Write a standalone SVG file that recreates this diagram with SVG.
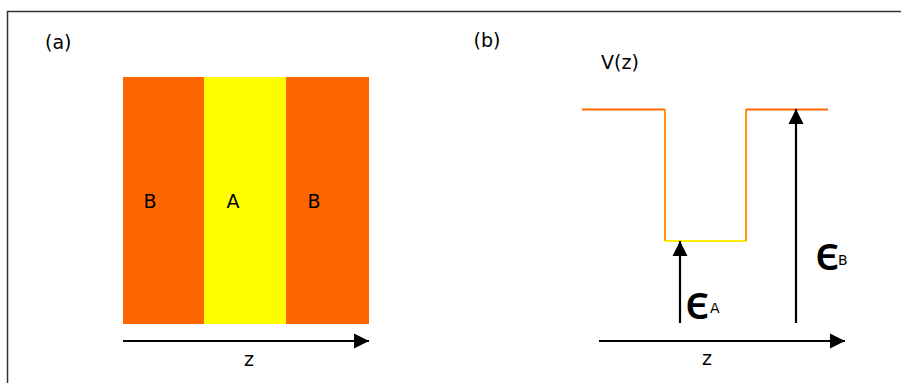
<svg xmlns="http://www.w3.org/2000/svg" width="901" height="383" viewBox="0 0 901 383">
<style>
text{font-family:"DejaVu Sans","Open Sans",sans-serif;fill:#000}
.lbl{font-size:19px}
.eps{font-family:"Noto Sans","DejaVu Sans",sans-serif;font-size:48px;font-weight:500}
.sub{font-family:"DejaVu Sans",sans-serif;font-size:14px}
.ax{stroke:#000;stroke-width:2.2;fill:none}
</style>
<defs>
<marker id="ah" viewBox="0 0 10 10" refX="10" refY="5" markerWidth="7" markerHeight="7" orient="auto" markerUnits="strokeWidth">
<path d="M0,0 L10,5 L0,10 z" fill="#000"/>
</marker>
</defs>
<rect width="901" height="383" fill="#fff"/>
<path d="M7.5,383 V11.5 H901" fill="none" stroke="#333" stroke-width="1.5"/>
<g id="panel-a">
<text class="lbl" x="45" y="49">(a)</text>
<g id="layer-B1"><rect x="123" y="77" width="81" height="247" fill="#ff6600"/><text class="lbl" x="150" y="208" text-anchor="middle">B</text></g>
<g id="layer-A"><rect x="204" y="77" width="82" height="247" fill="#ffff00"/><text class="lbl" x="233" y="208" text-anchor="middle">A</text></g>
<g id="layer-B2"><rect x="286" y="77" width="83" height="247" fill="#ff6600"/><text class="lbl" x="314" y="208" text-anchor="middle">B</text></g>
<text class="lbl" x="249" y="366" text-anchor="middle">z</text>
</g>
<g id="panel-b">
<text class="lbl" x="487" y="47" text-anchor="middle">(b)</text>
<text class="lbl" x="620" y="69" text-anchor="middle">V(z)</text>
<g id="potential">
<line x1="582" y1="109.5" x2="665" y2="109.5" stroke="#ff6600" stroke-width="2"/>
<line x1="665" y1="109.5" x2="665" y2="241" stroke="#ff9900" stroke-width="2"/>
<line x1="665" y1="241" x2="746" y2="241" stroke="#ffee00" stroke-width="2"/>
<line x1="746" y1="241" x2="746" y2="109.5" stroke="#ff9900" stroke-width="2"/>
<line x1="746" y1="109.5" x2="828" y2="109.5" stroke="#ff6600" stroke-width="2"/>
</g>
<text class="eps" x="685" y="319">ϵ</text><text class="sub" x="710" y="313">A</text>
<text class="eps" x="815" y="270" font-size="42">ϵ</text><text class="sub" x="838" y="265">B</text>
<text class="lbl" x="707" y="365" text-anchor="middle">z</text>
</g>
<g id="connectors">
<line class="ax" x1="123" y1="341" x2="369" y2="341" marker-end="url(#ah)"/>
<line class="ax" x1="599" y1="341" x2="845" y2="341" marker-end="url(#ah)"/>
<line class="ax" x1="680" y1="323" x2="680" y2="241" marker-end="url(#ah)"/>
<line class="ax" x1="796" y1="323" x2="796" y2="109" marker-end="url(#ah)"/>
</g>
</svg>
